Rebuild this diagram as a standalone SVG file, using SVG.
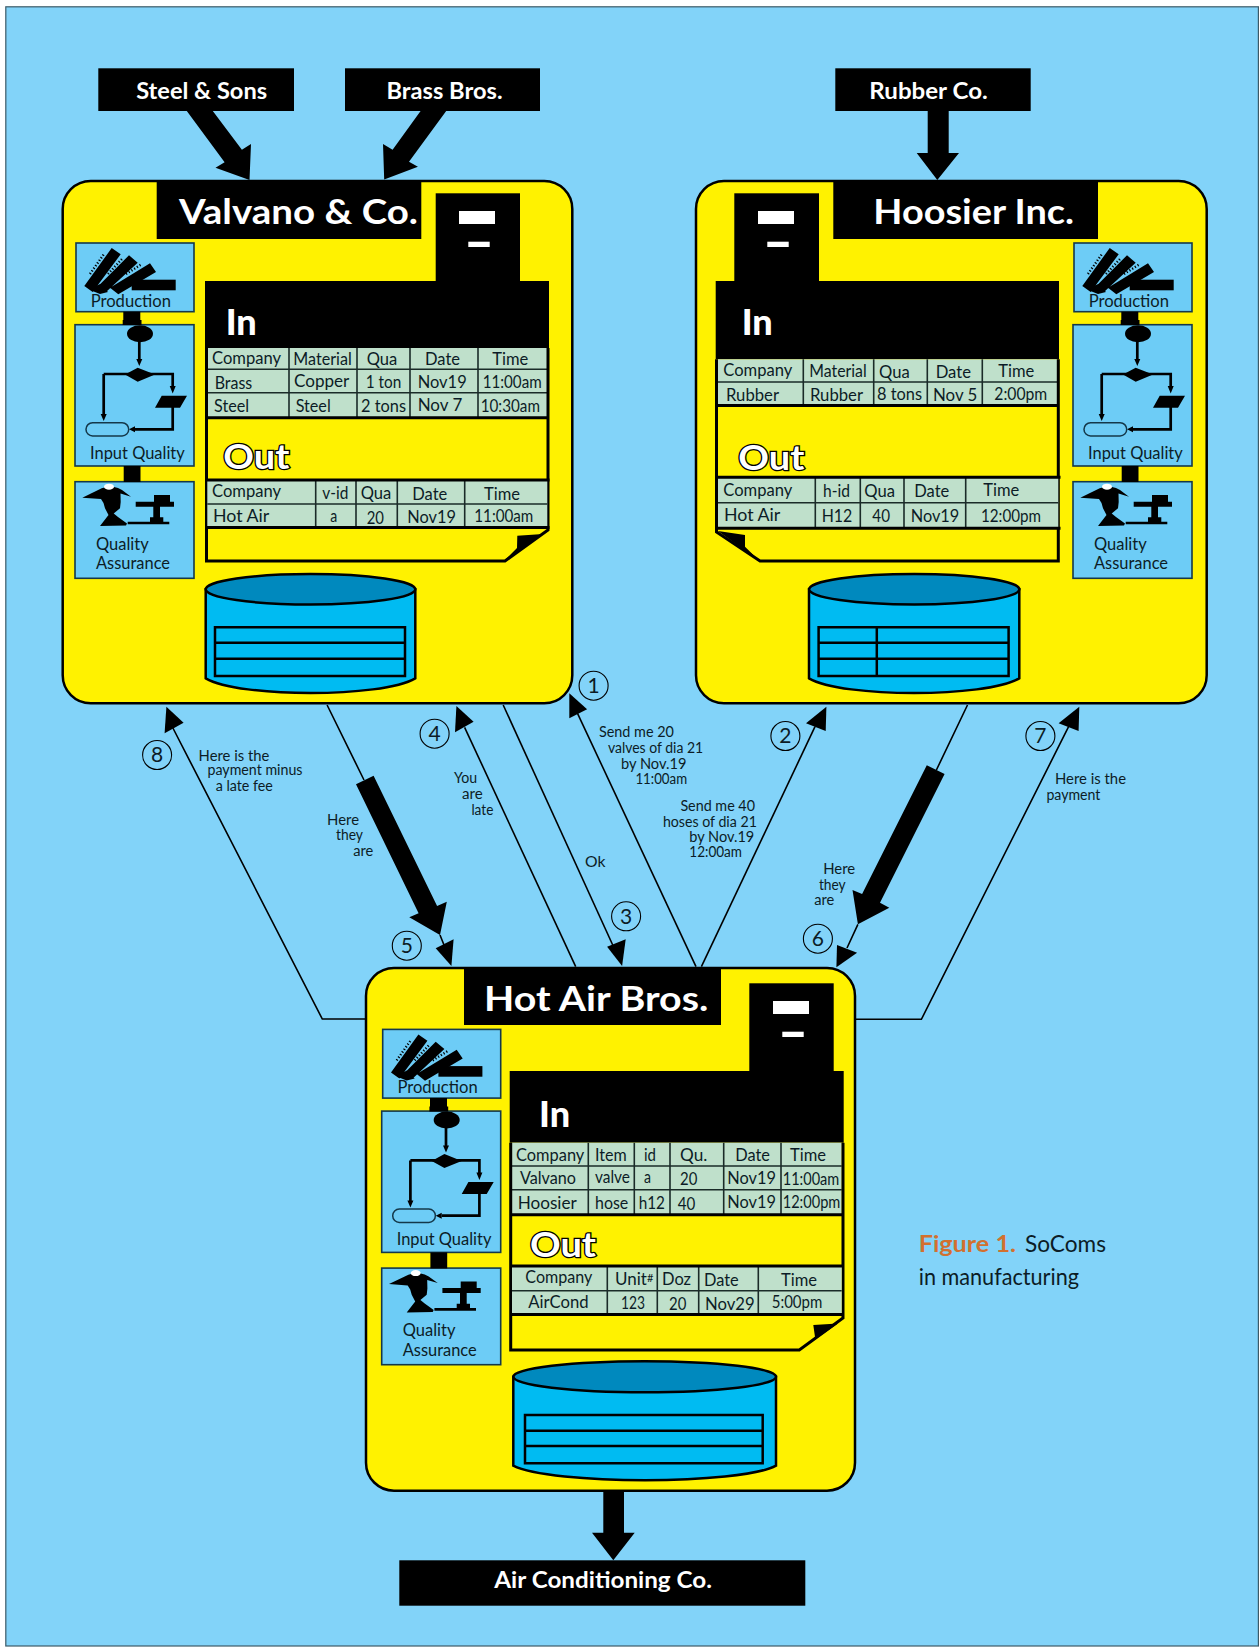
<svg xmlns="http://www.w3.org/2000/svg" xmlns:xlink="http://www.w3.org/1999/xlink" width="1259" height="1647" viewBox="0 0 1259 1647">
<style>
text{font-family:Lato,"Liberation Sans",sans-serif;fill:#0c1c26}
.card{fill:#FFF200;stroke:#000;stroke-width:2.5}
.blk{fill:#000}
.wht{fill:#fff}
.ttl{font-size:35px;font-weight:700;fill:#fff;transform:translateY(1.5px)}
.sup{font-size:22px;font-weight:700;fill:#fff;transform:translateY(1px)}
.in{font-size:36px;font-weight:900;fill:#fff;transform:translateY(1.5px)}
.out{font-size:35px;font-weight:700;fill:#fff;stroke:#000;stroke-width:2.6;paint-order:stroke;transform:translateY(1.5px)}
.tile{fill:#6DCCF6;stroke:#14384a;stroke-width:1.6}
.side{font-size:17px}
.c{font-size:17px}
.m{font-size:14.5px}
.tb{fill:#BFE0CB}
.tl{stroke:#1a2b28;stroke-width:1.6;fill:none}
.tb2{stroke:#000;stroke-width:3;fill:none}
.dbs{fill:#00BBF2;stroke:#000;stroke-width:2.5}
.dbt{fill:#0089BE;stroke:#000;stroke-width:2.5}
.dbl{fill:none;stroke:#000;stroke-width:2.5}
.fl{fill:none;stroke:#000;stroke-width:2.7}
.ln{fill:none;stroke:#000;stroke-width:1.6}
.num{fill:none;stroke:#000;stroke-width:1.1}
.n{font-size:21px;text-anchor:middle}
.fig{font-size:22.5px}
</style>
<defs>
<g id="prod">
<path class="blk" d="M84.300 286L111.700 248L120.700 254.300L92.700 292ZM98.300 286L129 255.300L137.700 262.700L106 292ZM110 287.700L150 263.300L156 272L118.300 294.300ZM90 290L100 284L108 292L100 294Z"/>
<rect class="blk" x="131.700" y="279.700" width="44" height="10.600"/>
<path d="M90 274L104 254M108 274L122 259M126 274L142 264" fill="none" stroke="#000" stroke-width="2.400" stroke-dasharray="1.200 2"/>
</g>
<g id="flow">
<ellipse class="blk" cx="140" cy="333.700" rx="13" ry="8.500"/>
<path class="fl" d="M139.300 340V360M103.700 374H172.700V388M103.700 374V416M172.700 405V429.300H135"/>
<path class="blk" d="M125 374.500L137.700 367.700L155 374.500L137.700 381.700ZM136.300 359H142.300L139.300 366ZM169.700 386H175.700L172.700 393.500ZM100.700 414H106.700L103.700 421ZM135 426.300V432.300L129 429.300ZM155 407.700L161.700 395.700H187L180 407.700Z"/>
<rect x="86" y="422.700" width="42.700" height="13.300" rx="6.600" fill="#6DCCF6" stroke="#14384a" stroke-width="1.500"/>
</g>
<g id="qa">
<path class="blk" d="M82.300 497.700L101.700 488.300L110 486L118 488L122 490L131 496.700L120.500 493.500L120.700 502L120 508.300L113.700 513.500L118 517L127 523.500L126 525.500L100 526L108.500 515L105 508.300L103.500 503L101 499Z"/>
<ellipse class="wht" cx="109" cy="486.700" rx="5" ry="3"/>
<path class="blk" d="M154 495H170V501.700H174V506.700H135.700V501.700H154ZM153.300 506.700H160V517.300H163.300V521.700H169.300V524.300H127.700V521.700H150V517.300H153.300Z"/>
</g>
<g id="towerbars">
<rect class="wht" x="0" y="0" width="36" height="13"/>
<rect class="wht" x="9.300" y="30.700" width="21.400" height="5.300"/>
</g>
<g id="joint">
<path class="blk" d="M123.300 311.700H140.300V320H141.500V325H122.700V320H123.300Z"/>
<rect class="blk" x="123.700" y="466" width="16.800" height="16"/>
</g>
</defs>
<rect x="5.800" y="6.800" width="1252.600" height="1639.200" fill="#82D3F9" stroke="#3c5a68" stroke-width="1.200"/>

<g id="connectors">
<path class="blk" d="M186.800 111H212.800L241.900 149.700L251 144L249.500 180L215.500 167.700L224.600 162.300Z"/>
<path class="blk" d="M420.600 111H446.200L409 161.700L417.900 166.700L384.200 179.500L383 144L392.600 149.700Z"/>
<path class="blk" d="M927.700 111H948.700V153H959L937.300 180L916.700 153H927.700Z"/>
<path class="blk" d="M603.300 1490H624V1532.700H634.700L613.300 1560.300L592 1532.700H603.300Z"/>
<path class="ln" d="M172.900 728L322.300 1019H366"/>
<path class="blk" d="M166.400 706.700L164.600 733.300L183.600 722.700Z"/>
<path class="ln" d="M327.100 705L364 780M440 935L444 945"/>
<path class="blk" d="M356 784.300L373.600 775.700L437.100 906L446.800 901.700L440 935L409.300 917.300L418.600 913.300Z"/>
<path class="blk" d="M451.400 966L435.700 948.300L453.600 939.300Z"/>
<path class="ln" d="M464.600 727.300L575.700 966.700"/>
<path class="blk" d="M456.400 706L455 732.300L473.600 721.700Z"/>
<path class="ln" d="M503.200 705L615 950"/>
<path class="blk" d="M622.100 966L607.100 946.700L625.700 939.300Z"/>
<path class="ln" d="M577.500 713.300L696 966.700"/>
<path class="blk" d="M569.300 693.300L569.300 718.300L587.100 709.300Z"/>
<path class="ln" d="M815 726.700L701.400 966.700"/>
<path class="blk" d="M826.400 706.700L806 723.300L825.700 731Z"/>
<path class="ln" d="M967.500 705L936.400 770M857.900 924.300L847 948"/>
<path class="blk" d="M926.800 765.300L944.600 774L880 902.700L889.300 907.700L857.900 924.300L852.500 890L862.100 894Z"/>
<path class="blk" d="M836.400 967.300L837 945L857.100 952.700Z"/>
<path class="ln" d="M1068.600 726.700L921.400 1019.300H853.200"/>
<path class="blk" d="M1079.300 706.700L1058.600 723.300L1078.600 731Z"/>
<g id="markers">
<circle class="num" cx="593.600" cy="685.700" r="14.500"/><text class="n" x="593.600" y="693">1</text>
<circle class="num" cx="785.400" cy="736" r="14.500"/><text class="n" x="785.400" y="743.300">2</text>
<circle class="num" cx="626.100" cy="916.300" r="14.500"/><text class="n" x="626.100" y="923.600">3</text>
<circle class="num" cx="434.600" cy="733.700" r="14.500"/><text class="n" x="434.600" y="741">4</text>
<circle class="num" cx="406.800" cy="945.700" r="14.500"/><text class="n" x="406.800" y="953">5</text>
<circle class="num" cx="817.900" cy="938.700" r="14.500"/><text class="n" x="817.900" y="946">6</text>
<circle class="num" cx="1040.400" cy="736" r="14.500"/><text class="n" x="1040.400" y="743.300">7</text>
<circle class="num" cx="157.100" cy="755" r="14.500"/><text class="n" x="157.100" y="762.300">8</text>
</g>
<g id="labels">
<text class="m" x="598.900" y="737.300" textLength="75" lengthAdjust="spacingAndGlyphs">Send me 20</text>
<text class="m" x="607.900" y="753.300" textLength="95.300" lengthAdjust="spacingAndGlyphs">valves of dia 21</text>
<text class="m" x="621" y="769.300" textLength="65.400" lengthAdjust="spacingAndGlyphs">by Nov.19</text>
<text class="m" x="635.400" y="784" textLength="51.700" lengthAdjust="spacingAndGlyphs">11:00am</text>
<text class="m" x="680.400" y="810.700" textLength="74.600" lengthAdjust="spacingAndGlyphs">Send me 40</text>
<text class="m" x="662.900" y="826.700" textLength="94" lengthAdjust="spacingAndGlyphs">hoses of dia 21</text>
<text class="m" x="689.300" y="841.700" textLength="65" lengthAdjust="spacingAndGlyphs">by Nov.19</text>
<text class="m" x="689.300" y="857.300" textLength="52.700" lengthAdjust="spacingAndGlyphs">12:00am</text>
<text class="m" x="198.600" y="760.700" textLength="70.700" lengthAdjust="spacingAndGlyphs">Here is the</text>
<text class="m" x="207.500" y="775" textLength="95" lengthAdjust="spacingAndGlyphs">payment minus</text>
<text class="m" x="215.700" y="791" textLength="57.200" lengthAdjust="spacingAndGlyphs">a late fee</text>
<text class="m" x="327.100" y="825" textLength="32" lengthAdjust="spacingAndGlyphs">Here</text>
<text class="m" x="336" y="840" textLength="26.900" lengthAdjust="spacingAndGlyphs">they</text>
<text class="m" x="353.200" y="856" textLength="20" lengthAdjust="spacingAndGlyphs">are</text>
<text class="m" x="453.900" y="783.300" textLength="23.200" lengthAdjust="spacingAndGlyphs">You</text>
<text class="m" x="462.100" y="799" textLength="20.700" lengthAdjust="spacingAndGlyphs">are</text>
<text class="m" x="471.400" y="815" textLength="22" lengthAdjust="spacingAndGlyphs">late</text>
<text class="m" x="585" y="866.700" textLength="20.400" lengthAdjust="spacingAndGlyphs">Ok</text>
<text class="m" x="823.200" y="874" textLength="32" lengthAdjust="spacingAndGlyphs">Here</text>
<text class="m" x="818.900" y="890" textLength="26.800" lengthAdjust="spacingAndGlyphs">they</text>
<text class="m" x="814.300" y="905" textLength="20" lengthAdjust="spacingAndGlyphs">are</text>
<text class="m" x="1055" y="784" textLength="71" lengthAdjust="spacingAndGlyphs">Here is the</text>
<text class="m" x="1046.400" y="800" textLength="54" lengthAdjust="spacingAndGlyphs">payment</text>
</g>
</g>

<g id="steel-sons"><rect class="blk" x="98.300" y="68.300" width="195.700" height="42.700"/><text class="sup" x="136.200" y="98.300" textLength="130.900" lengthAdjust="spacingAndGlyphs">Steel &amp; Sons</text></g>
<g id="brass-bros"><rect class="blk" x="345" y="68.300" width="195" height="42.700"/><text class="sup" x="386.500" y="98.300" textLength="116" lengthAdjust="spacingAndGlyphs">Brass Bros.</text></g>
<g id="rubber-co"><rect class="blk" x="835.300" y="68.300" width="195.400" height="42.700"/><text class="sup" x="869.300" y="98.300" textLength="118.400" lengthAdjust="spacingAndGlyphs">Rubber Co.</text></g>
<g id="air-conditioning"><rect class="blk" x="399.300" y="1560.300" width="406" height="45.400"/><text class="sup" x="494.300" y="1587.300" textLength="217.700" lengthAdjust="spacingAndGlyphs">Air Conditioning Co.</text></g>

<g id="valvano">
<rect class="card" x="62.700" y="181" width="509.600" height="522.300" rx="28"/>
<rect class="blk" x="156.700" y="180" width="264.600" height="59"/>
<text class="ttl" x="179" y="222.300" textLength="239" lengthAdjust="spacingAndGlyphs">Valvano &amp; Co.</text>
<rect class="blk" x="435.700" y="193.300" width="84.300" height="88"/>
<use xlink:href="#towerbars" href="#towerbars" x="459" y="211"/>
<rect class="tile" x="76" y="243" width="118" height="68.700"/>
<rect class="tile" x="75" y="324.700" width="119" height="141.300"/>
<rect class="tile" x="75" y="481.700" width="119" height="96.600"/>
<use xlink:href="#joint" href="#joint"/><use xlink:href="#prod" href="#prod"/><use xlink:href="#flow" href="#flow"/><use xlink:href="#qa" href="#qa"/>
<text class="side" x="90.700" y="307" textLength="80.300" lengthAdjust="spacingAndGlyphs">Production</text>
<text class="side" x="90" y="458.500" textLength="94.700" lengthAdjust="spacingAndGlyphs">Input Quality</text>
<text class="side" x="96" y="549.800" textLength="52.700" lengthAdjust="spacingAndGlyphs">Quality</text>
<text class="side" x="96" y="569.300" textLength="74" lengthAdjust="spacingAndGlyphs">Assurance</text>
<rect class="blk" x="205" y="281" width="344" height="67"/>
<text class="in" x="225.700" y="333.300">In</text>
<rect class="tb" x="207.300" y="348" width="340" height="69.700"/>
<path class="tl" d="M207.300 369.300H547.300M207.300 392.700H547.300M289 348V417.700M357 348V417.700M410 348V417.700M478 348V417.700"/>
<path class="tb2" d="M206.500 348V561H505L548 530V348M206.500 417.700H548"/>
<text class="out" x="223.300" y="467.300" textLength="66" lengthAdjust="spacingAndGlyphs">Out</text>
<rect class="tb" x="207.300" y="480" width="340" height="47"/>
<path class="tl" d="M207.300 504H547.300M315.700 480V527M356 480V527M397.300 480V527M464.700 480V527"/>
<path class="tb2" d="M205 480H549.500M205 527.500H549.500"/>
<path class="blk" d="M517.300 535.700L543 534L504 561L517 548Z"/>
<g>
<text class="c" x="212" y="364" textLength="69" lengthAdjust="spacingAndGlyphs">Company</text>
<text class="c" x="293.300" y="365" textLength="58.400" lengthAdjust="spacingAndGlyphs">Material</text>
<text class="c" x="366.700" y="365" textLength="30.600" lengthAdjust="spacingAndGlyphs">Qua</text>
<text class="c" x="425" y="365" textLength="35" lengthAdjust="spacingAndGlyphs">Date</text>
<text class="c" x="492.300" y="365" textLength="36" lengthAdjust="spacingAndGlyphs">Time</text>
<text class="c" x="214.700" y="389" textLength="37.600" lengthAdjust="spacingAndGlyphs">Brass</text>
<text class="c" x="294" y="387.300" textLength="55.300" lengthAdjust="spacingAndGlyphs">Copper</text>
<text class="c" x="365.700" y="388.300" textLength="35.600" lengthAdjust="spacingAndGlyphs">1 ton</text>
<text class="c" x="417.700" y="388.300" textLength="49" lengthAdjust="spacingAndGlyphs">Nov19</text>
<text class="c" x="482.700" y="388.300" textLength="59" lengthAdjust="spacingAndGlyphs">11:00am</text>
<text class="c" x="214" y="412.300" textLength="35" lengthAdjust="spacingAndGlyphs">Steel</text>
<text class="c" x="295.700" y="412.300" textLength="35" lengthAdjust="spacingAndGlyphs">Steel</text>
<text class="c" x="361" y="411.700" textLength="45" lengthAdjust="spacingAndGlyphs">2 tons</text>
<text class="c" x="417.700" y="411" textLength="44.600" lengthAdjust="spacingAndGlyphs">Nov 7</text>
<text class="c" x="480.700" y="411.700" textLength="59.300" lengthAdjust="spacingAndGlyphs">10:30am</text>
<text class="c" x="212" y="497.300" textLength="69" lengthAdjust="spacingAndGlyphs">Company</text>
<text class="c" x="322.300" y="499" textLength="26" lengthAdjust="spacingAndGlyphs">v-id</text>
<text class="c" x="360.700" y="499" textLength="30.600" lengthAdjust="spacingAndGlyphs">Qua</text>
<text class="c" x="412.300" y="500" textLength="35" lengthAdjust="spacingAndGlyphs">Date</text>
<text class="c" x="484" y="500" textLength="36" lengthAdjust="spacingAndGlyphs">Time</text>
<text class="c" x="213" y="522.300" textLength="56.300" lengthAdjust="spacingAndGlyphs">Hot Air</text>
<text class="c" x="330.300" y="522.300" textLength="7" lengthAdjust="spacingAndGlyphs">a</text>
<text class="c" x="366.700" y="524" textLength="17.300" lengthAdjust="spacingAndGlyphs">20</text>
<text class="c" x="407.300" y="523.300" textLength="48.700" lengthAdjust="spacingAndGlyphs">Nov19</text>
<text class="c" x="474.300" y="522.300" textLength="59" lengthAdjust="spacingAndGlyphs">11:00am</text>
</g>
<path class="dbs" d="M205.700 589.300V678.300C240 698 381 698 415.300 678.300V589.300Z"/>
<ellipse class="dbt" cx="310.500" cy="589.300" rx="104.800" ry="15.200"/>
<path class="dbl" d="M215 627.300H405V676H215ZM215 642.700H405M215 658.700H405"/>
</g>

<g id="hoosier">
<rect class="card" x="696" y="181" width="510.700" height="522.300" rx="28"/>
<rect class="blk" x="833.300" y="180" width="264.700" height="59"/>
<text class="ttl" x="873.300" y="222.300" textLength="200.700" lengthAdjust="spacingAndGlyphs">Hoosier Inc.</text>
<rect class="blk" x="734.300" y="193.300" width="84.700" height="88"/>
<use xlink:href="#towerbars" href="#towerbars" x="758" y="211"/>
<g transform="translate(998,0)">
<rect class="tile" x="76" y="243" width="118" height="68.700"/>
<rect class="tile" x="75" y="324.700" width="119" height="141.300"/>
<rect class="tile" x="75" y="481.700" width="119" height="96.600"/>
<use xlink:href="#joint" href="#joint"/><use xlink:href="#prod" href="#prod"/><use xlink:href="#flow" href="#flow"/><use xlink:href="#qa" href="#qa"/>
<text class="side" x="90.700" y="307" textLength="80.300" lengthAdjust="spacingAndGlyphs">Production</text>
<text class="side" x="90" y="458.500" textLength="94.700" lengthAdjust="spacingAndGlyphs">Input Quality</text>
<text class="side" x="96" y="549.800" textLength="52.700" lengthAdjust="spacingAndGlyphs">Quality</text>
<text class="side" x="96" y="569.300" textLength="74" lengthAdjust="spacingAndGlyphs">Assurance</text>
</g>
<rect class="blk" x="715.700" y="281" width="343.300" height="78.300"/>
<text class="in" x="741.700" y="333.300">In</text>
<rect class="tb" x="718" y="359.300" width="339.300" height="45.700"/>
<path class="tl" d="M718 382H1057.300M803.300 359.300V405M873.700 359.300V405M927.300 359.300V405M982.300 359.300V405"/>
<path class="tb2" d="M716.500 359.300V532L760 561H1058.300V359.300M716.500 405.500H1058.300"/>
<text class="out" x="738.300" y="468.300" textLength="66" lengthAdjust="spacingAndGlyphs">Out</text>
<rect class="tb" x="718" y="477.300" width="340.300" height="51"/>
<path class="tl" d="M718 502.700H1058.300M815.300 477.300V528.300M860.300 477.300V528.300M904 477.300V528.300M965.700 477.300V528.300"/>
<path class="tb2" d="M715.500 477.300H1060.500M715.500 528.300H1060.500"/>
<path class="blk" d="M718 531L745 535V546.700L759.300 560.700Z"/>
<g>
<text class="c" x="723.300" y="376" textLength="69" lengthAdjust="spacingAndGlyphs">Company</text>
<text class="c" x="809.300" y="377.300" textLength="57.400" lengthAdjust="spacingAndGlyphs">Material</text>
<text class="c" x="879" y="378.300" textLength="30.700" lengthAdjust="spacingAndGlyphs">Qua</text>
<text class="c" x="935.700" y="378.300" textLength="35.300" lengthAdjust="spacingAndGlyphs">Date</text>
<text class="c" x="998.300" y="377.300" textLength="36" lengthAdjust="spacingAndGlyphs">Time</text>
<text class="c" x="726" y="400.700" textLength="53" lengthAdjust="spacingAndGlyphs">Rubber</text>
<text class="c" x="810" y="400.700" textLength="53" lengthAdjust="spacingAndGlyphs">Rubber</text>
<text class="c" x="877" y="400" textLength="45" lengthAdjust="spacingAndGlyphs">8 tons</text>
<text class="c" x="933" y="400.700" textLength="44.300" lengthAdjust="spacingAndGlyphs">Nov 5</text>
<text class="c" x="994.300" y="400" textLength="53" lengthAdjust="spacingAndGlyphs">2:00pm</text>
<text class="c" x="723.300" y="496" textLength="69" lengthAdjust="spacingAndGlyphs">Company</text>
<text class="c" x="823" y="497.300" textLength="27" lengthAdjust="spacingAndGlyphs">h-id</text>
<text class="c" x="864.300" y="497.300" textLength="30.700" lengthAdjust="spacingAndGlyphs">Qua</text>
<text class="c" x="914.300" y="497.300" textLength="35" lengthAdjust="spacingAndGlyphs">Date</text>
<text class="c" x="983.300" y="496" textLength="36" lengthAdjust="spacingAndGlyphs">Time</text>
<text class="c" x="724" y="521" textLength="56.300" lengthAdjust="spacingAndGlyphs">Hot Air</text>
<text class="c" x="821.700" y="521.700" textLength="30.600" lengthAdjust="spacingAndGlyphs">H12</text>
<text class="c" x="872.300" y="521.700" textLength="17.700" lengthAdjust="spacingAndGlyphs">40</text>
<text class="c" x="910.700" y="521.700" textLength="48.600" lengthAdjust="spacingAndGlyphs">Nov19</text>
<text class="c" x="981" y="521.700" textLength="60" lengthAdjust="spacingAndGlyphs">12:00pm</text>
</g>
<path class="dbs" d="M809 589.300V678.300C843 698 985 698 1019.300 678.300V589.300Z"/>
<ellipse class="dbt" cx="914.200" cy="589.300" rx="105.100" ry="15.200"/>
<path class="dbl" d="M818.600 627.300H1008.600V676H818.600ZM818.600 642.700H1008.600M818.600 658.700H1008.600M876.800 627.300V676"/>
</g>

<g id="hot-air">
<rect class="card" x="366" y="968" width="489" height="522.700" rx="28"/>
<rect class="blk" x="464" y="967" width="257" height="58"/>
<text class="ttl" x="484" y="1009" textLength="224.300" lengthAdjust="spacingAndGlyphs">Hot Air Bros.</text>
<rect class="blk" x="749.300" y="983.300" width="84.400" height="88"/>
<use xlink:href="#towerbars" href="#towerbars" x="773" y="1001"/>
<g transform="translate(306.700,786.400)">
<rect class="tile" x="76" y="243" width="118" height="68.700"/>
<rect class="tile" x="75" y="324.700" width="119" height="141.300"/>
<rect class="tile" x="75" y="481.700" width="119" height="96.600"/>
<use xlink:href="#joint" href="#joint"/><use xlink:href="#prod" href="#prod"/><use xlink:href="#flow" href="#flow"/><use xlink:href="#qa" href="#qa"/>
<text class="side" x="90.700" y="307" textLength="80.300" lengthAdjust="spacingAndGlyphs">Production</text>
<text class="side" x="90" y="458.500" textLength="94.700" lengthAdjust="spacingAndGlyphs">Input Quality</text>
<text class="side" x="96" y="549.800" textLength="52.700" lengthAdjust="spacingAndGlyphs">Quality</text>
<text class="side" x="96" y="569.300" textLength="74" lengthAdjust="spacingAndGlyphs">Assurance</text>
</g>
<rect class="blk" x="509.700" y="1071" width="334" height="71.700"/>
<text class="in" x="539" y="1125.700">In</text>
<rect class="tb" x="512" y="1142.700" width="329.700" height="71.600"/>
<path class="tl" d="M512 1166H841.700M512 1189.700H841.700M588.300 1142.700V1214.300M634.300 1142.700V1214.300M670 1142.700V1214.300M723.700 1142.700V1214.300M781 1142.700V1214.300"/>
<path class="tb2" d="M510.700 1142.700V1350H799.300L843 1318V1142.700M510.700 1214.800H843"/>
<text class="out" x="530" y="1255" textLength="66" lengthAdjust="spacingAndGlyphs">Out</text>
<rect class="tb" x="512" y="1266" width="329.700" height="48"/>
<path class="tl" d="M512 1290.700H841.700M607.300 1266V1314M657.300 1266V1314M698.700 1266V1314M758.300 1266V1314"/>
<path class="tb2" d="M510.700 1266H843M510.700 1314.500H843"/>
<path class="blk" d="M813.300 1325L838 1323.500L800 1350L815 1337Z"/>
<g>
<text class="c" x="516" y="1161" textLength="68.300" lengthAdjust="spacingAndGlyphs">Company</text>
<text class="c" x="595" y="1161" textLength="31.700" lengthAdjust="spacingAndGlyphs">Item</text>
<text class="c" x="644" y="1161" textLength="12" lengthAdjust="spacingAndGlyphs">id</text>
<text class="c" x="680" y="1161" textLength="27.300" lengthAdjust="spacingAndGlyphs">Qu.</text>
<text class="c" x="735.300" y="1161" textLength="34.700" lengthAdjust="spacingAndGlyphs">Date</text>
<text class="c" x="790" y="1161" textLength="36" lengthAdjust="spacingAndGlyphs">Time</text>
<text class="c" x="520" y="1184" textLength="56" lengthAdjust="spacingAndGlyphs">Valvano</text>
<text class="c" x="595" y="1183.300" textLength="35" lengthAdjust="spacingAndGlyphs">valve</text>
<text class="c" x="644" y="1183.300" textLength="7" lengthAdjust="spacingAndGlyphs">a</text>
<text class="c" x="680" y="1185" textLength="17.300" lengthAdjust="spacingAndGlyphs">20</text>
<text class="c" x="727.300" y="1184" textLength="48.700" lengthAdjust="spacingAndGlyphs">Nov19</text>
<text class="c" x="782.700" y="1185" textLength="56.600" lengthAdjust="spacingAndGlyphs">11:00am</text>
<text class="c" x="517.700" y="1209" textLength="59" lengthAdjust="spacingAndGlyphs">Hoosier</text>
<text class="c" x="595" y="1209" textLength="33.300" lengthAdjust="spacingAndGlyphs">hose</text>
<text class="c" x="638.700" y="1209" textLength="26.300" lengthAdjust="spacingAndGlyphs">h12</text>
<text class="c" x="677.700" y="1210" textLength="17.600" lengthAdjust="spacingAndGlyphs">40</text>
<text class="c" x="727.300" y="1207.700" textLength="48.700" lengthAdjust="spacingAndGlyphs">Nov19</text>
<text class="c" x="782.700" y="1208.300" textLength="57.600" lengthAdjust="spacingAndGlyphs">12:00pm</text>
<text class="c" x="525.300" y="1283.300" textLength="67" lengthAdjust="spacingAndGlyphs">Company</text>
<text class="c" x="615" y="1285">Unit<tspan font-size="11" dy="-3.500">#</tspan></text>
<text class="c" x="662" y="1285" textLength="29" lengthAdjust="spacingAndGlyphs">Doz</text>
<text class="c" x="704" y="1285.700" textLength="34.700" lengthAdjust="spacingAndGlyphs">Date</text>
<text class="c" x="781" y="1285.700" textLength="36" lengthAdjust="spacingAndGlyphs">Time</text>
<text class="c" x="528.300" y="1308.300" textLength="60.400" lengthAdjust="spacingAndGlyphs">AirCond</text>
<text class="c" x="621" y="1309" textLength="24" lengthAdjust="spacingAndGlyphs">123</text>
<text class="c" x="669" y="1310" textLength="17.300" lengthAdjust="spacingAndGlyphs">20</text>
<text class="c" x="705" y="1310" textLength="49.700" lengthAdjust="spacingAndGlyphs">Nov29</text>
<text class="c" x="771.700" y="1308.300" textLength="50.600" lengthAdjust="spacingAndGlyphs">5:00pm</text>
</g>
<path class="dbs" d="M513.300 1376.700V1465.700C550 1485 740 1485 776 1465.700V1376.700Z"/>
<ellipse class="dbt" cx="644.700" cy="1376.700" rx="131.300" ry="15.500"/>
<path class="dbl" d="M525 1415H762.700V1463.300H525ZM525 1430.700H762.700M525 1446H762.700"/>
</g>

<g id="caption">
<text class="fig" x="918.700" y="1251.700" font-weight="700" style="fill:#D2702F" textLength="97.300" lengthAdjust="spacingAndGlyphs">Figure 1.</text>
<text class="fig" x="1025" y="1251.700" textLength="81" lengthAdjust="spacingAndGlyphs">SoComs</text>
<text class="fig" x="918.700" y="1285" textLength="160.300" lengthAdjust="spacingAndGlyphs">in manufacturing</text>
</g>
</svg>
